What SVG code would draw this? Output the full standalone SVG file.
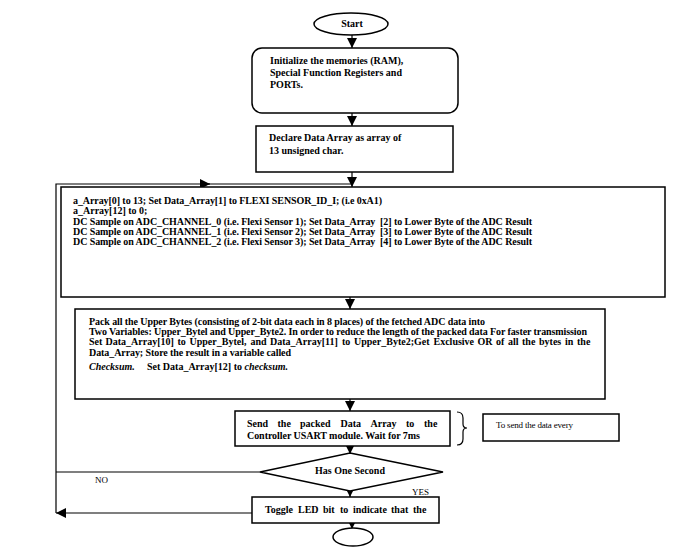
<svg xmlns="http://www.w3.org/2000/svg" width="694" height="550" viewBox="0 0 694 550">
<defs>
<marker id="ah" markerUnits="userSpaceOnUse" markerWidth="10" markerHeight="10" refX="10" refY="5" orient="auto" viewBox="0 0 10 10">
<path d="M0,0 L10,5 L0,10 z" fill="#000"/>
</marker>
</defs>
<style>
.shape{fill:#fff;stroke:#000;stroke-width:1.5}
.b{font-family:"Liberation Serif","Times New Roman",serif;font-weight:bold;font-size:10px;fill:#000}
.r{font-family:"Liberation Serif","Times New Roman",serif;font-size:9px;fill:#000}
.c{fill:none;stroke:#000;stroke-width:1.2}
</style>
<rect width="694" height="550" fill="#fff"/>
<g id="connectors">
<path class="c" d="M352,35 L352,48" marker-end="url(#ah)"/>
<path class="c" d="M352,113 L352,126" marker-end="url(#ah)"/>
<path class="c" d="M352,172 L352,187" marker-end="url(#ah)"/>
<path class="c" d="M350,297 L350,309" marker-end="url(#ah)"/>
<path class="c" d="M350,399 L350,411" marker-end="url(#ah)"/>
<path class="c" d="M350,446 L350,454" marker-end="url(#ah)"/>
<path class="c" d="M350,487 L350,497" marker-end="url(#ah)"/>
<path class="c" d="M352,523 L352,529" marker-end="url(#ah)"/>
<path class="c" d="M252,513 L56,513" marker-end="url(#ah)"/>
<path class="c" d="M56,513 L56,184 L210,184" marker-end="url(#ah)"/>
<path class="c" d="M208,184 L352,184"/>
<path class="c" d="M260,472 L56,472"/>
<path class="c" d="M457,412 Q463,412 463,418 L463,424 Q463,428 467,428 Q463,428 463,432 L463,439 Q463,445 457,445" stroke-width="1"/>
</g>
<g id="start">
<ellipse class="shape" cx="351" cy="24" rx="37" ry="11"/>
<text class="b" x="352" y="26.5" font-size="6.5" text-anchor="middle">Start</text>
</g>
<g id="init">
<rect class="shape" x="252" y="48" width="206" height="65" rx="10"/>
<text class="b" x="270" y="64">Initialize the memories (RAM),</text>
<text class="b" x="270" y="76">Special Function Registers and</text>
<text class="b" x="270" y="88">PORTs.</text>
</g>
<g id="declare">
<rect class="shape" x="256" y="126" width="197" height="46"/>
<text class="b" x="269" y="141">Declare Data Array as array of</text>
<text class="b" x="269" y="154">13 unsigned char.</text>
</g>
<g id="setup">
<rect class="shape" x="61" y="187" width="604" height="110"/>
<text class="b" x="73" y="204" font-size="9.5" textLength="309">a_Array[0] to 13; Set Data_Array[1] to FLEXI SENSOR_ID_I; (i.e 0xA1)</text>
<text class="b" x="73" y="214" font-size="9.5">a_Array[12] to 0;</text>
<text class="b" x="73" y="225" font-size="9.5" textLength="459" xml:space="preserve">DC Sample on ADC_CHANNEL_0 (i.e. Flexi Sensor 1); Set Data_Array  [2] to Lower Byte of the ADC Result</text>
<text class="b" x="73" y="235" font-size="9.5" textLength="459" xml:space="preserve">DC Sample on ADC_CHANNEL_1 (i.e. Flexi Sensor 2); Set Data_Array  [3] to Lower Byte of the ADC Result</text>
<text class="b" x="73" y="245" font-size="9.5" textLength="459" xml:space="preserve">DC Sample on ADC_CHANNEL_2 (i.e. Flexi Sensor 3); Set Data_Array  [4] to Lower Byte of the ADC Result</text>
</g>
<g id="pack">
<rect class="shape" x="75" y="309" width="530" height="90"/>
<text class="b" x="89" y="325" font-size="9.5" textLength="396">Pack all the Upper Bytes (consisting of 2-bit data each in 8 places) of the fetched ADC data into</text>
<text class="b" x="89" y="335" font-size="9.5" textLength="498">Two Variables: Upper_Bytel and Upper_Byte2. In order to reduce the length of the packed data For faster transmission</text>
<text class="b" y="345" font-size="9.5"><tspan x="89">Set</tspan><tspan x="105.5">Data_Array[10]</tspan><tspan x="177.5">to</tspan><tspan x="189.5">Upper_Bytel,</tspan><tspan x="250.5">and</tspan><tspan x="270">Data_Array[11]</tspan><tspan x="342">to</tspan><tspan x="354">Upper_Byte2;Get</tspan><tspan x="433.5">Exclusive</tspan><tspan x="477.5">OR</tspan><tspan x="496">of</tspan><tspan x="508">all</tspan><tspan x="522">the</tspan><tspan x="539">bytes</tspan><tspan x="565">in</tspan><tspan x="577">the</tspan></text>
<text class="b" x="89" y="356" font-size="9.5" textLength="202">Data_Array; Store the result in a variable called</text>
<text class="b" x="89" y="370" font-size="9.5"><tspan font-style="italic">Checksum.</tspan><tspan x="147">Set Data_Array[12] to </tspan><tspan font-style="italic">checksum.</tspan></text>
</g>
<g id="send">
<rect class="shape" x="235" y="411" width="215" height="35"/>
<text class="b" y="427"><tspan x="247">Send</tspan><tspan x="277.5">the</tspan><tspan x="300">packed</tspan><tspan x="340.5">Data</tspan><tspan x="370.5">Array</tspan><tspan x="406">to</tspan><tspan x="424">the</tspan></text>
<text class="b" x="247" y="439" textLength="173">Controller USART module. Wait for 7ms</text>
</g>
<g id="note">
<rect class="shape" x="483" y="414" width="136" height="27"/>
<text class="r" x="496" y="428" font-size="8" textLength="77">To send the data every</text>
</g>
<g id="decision">
<polygon class="shape" points="350,453 443,472 350,491 260,472"/>
<text class="b" x="350" y="474" text-anchor="middle">Has One Second</text>
</g>
<text class="r" x="95" y="483" font-size="8">NO</text>
<text class="r" x="412" y="495">YES</text>
<g id="toggle">
<rect class="shape" x="252" y="497" width="187" height="26"/>
<text class="b" y="513"><tspan x="265">Toggle</tspan><tspan x="298">LED</tspan><tspan x="323">bit</tspan><tspan x="340">to</tspan><tspan x="353">indicate</tspan><tspan x="391">that</tspan><tspan x="413">the</tspan></text>
</g>
<g id="end">
<ellipse class="shape" cx="353" cy="537" rx="20" ry="9"/>
</g>
</svg>
